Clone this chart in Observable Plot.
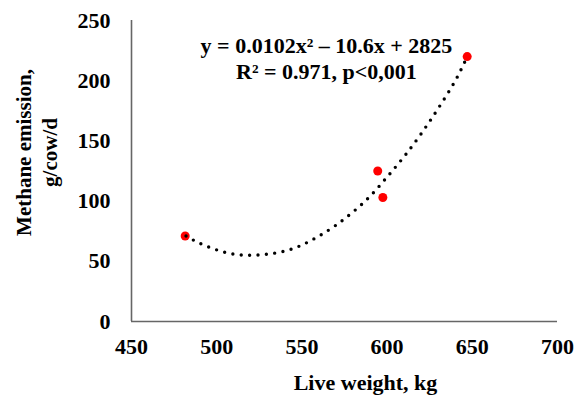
<!DOCTYPE html>
<html>
<head>
<meta charset="utf-8">
<script src="https://cdn.jsdelivr.net/npm/d3@7"></script>
<script src="https://cdn.jsdelivr.net/npm/@observablehq/plot@0.6"></script>
<style>
  html, body { margin: 0; padding: 0; background: #fff; }
  #chart { width: 575px; height: 396px; }
</style>
</head>
<body>
<div id="chart"></div>
<script>
// Observed data (live weight kg, methane g/cow/d)
const liveWeight = [481.5, 594.5, 597.5, 647];
const methane = [71, 125, 103, 220];

// Trend line points
const trendX = [482, 490, 500, 510, 520, 530, 540, 550, 560, 570, 580, 590, 600, 610, 620, 630, 640, 647];
const trendY = [71, 65, 59.5, 56, 55, 56, 58.5, 63.5, 71, 80, 91, 104, 120, 137, 156, 177, 200, 220];

const xTicks = [450, 500, 550, 600, 650, 700];
const yTicks = [0, 50, 100, 150, 200, 250];

const eqLine1 = "y = 0.0102x\u00B2 \u2013 10.6x + 2825";
const eqLine2 = "R\u00B2 = 0.971, p<0,001";
const xTitle = "Live weight, kg";
const yTitle = "Methane emission,\ng/cow/d";

const points = liveWeight.map((x, i) => ({x, y: methane[i]}));
const trend = trendX.map((x, i) => ({x, y: trendY[i]}));

const font = "Liberation Serif, Times New Roman, serif";
const axisColor = "#666";

const chart = Plot.plot({
  width: 575,
  height: 396,
  marginLeft: 131,
  marginRight: 18,
  marginTop: 20,
  marginBottom: 75,
  style: {fontFamily: font, fontWeight: "bold", fontSize: "22px", color: "#000", background: "#fff"},
  x: {domain: [450, 700]},
  y: {domain: [0, 250]},
  marks: [
    Plot.axisX(xTicks, {tickSize: 0, tickPadding: 17, fontSize: 22, fontWeight: "bold", label: null}),
    Plot.axisY(yTicks, {tickSize: 0, tickPadding: 21, fontSize: 22, fontWeight: "bold", label: null}),
    Plot.ruleX([450], {stroke: axisColor, strokeWidth: 1.6}),
    Plot.ruleY([0], {stroke: axisColor, strokeWidth: 1.6}),
    Plot.dot(points, {x: "x", y: "y", r: 4.5, fill: "#ff0000", stroke: "none"}),
    Plot.line(trend, {x: "x", y: "y", curve: "natural", stroke: "#000", strokeWidth: 3.4,
      strokeDasharray: "0,8.4", strokeLinecap: "round"}),
    Plot.text([eqLine1], {x: 564.4, y: 229, text: d => d, fontSize: 22, fontWeight: "bold", fill: "#000"}),
    Plot.text([eqLine2], {x: 564.4, y: 207.5, text: d => d, fontSize: 22, fontWeight: "bold", fill: "#000"}),
    Plot.text([xTitle], {frameAnchor: "bottom", text: d => d, dx: 21, dy: 61, lineAnchor: "middle",
      textAnchor: "middle", fontSize: 22, fontWeight: "bold", fill: "#000"}),
    Plot.text([yTitle], {frameAnchor: "left", text: d => d, dx: -96, dy: -18.5, rotate: -90,
      textAnchor: "middle", lineAnchor: "middle", lineHeight: 1.25,
      fontSize: 21, fontWeight: "bold", fill: "#000"})
  ]
});
document.getElementById("chart").appendChild(chart);
</script>
</body>
</html>
